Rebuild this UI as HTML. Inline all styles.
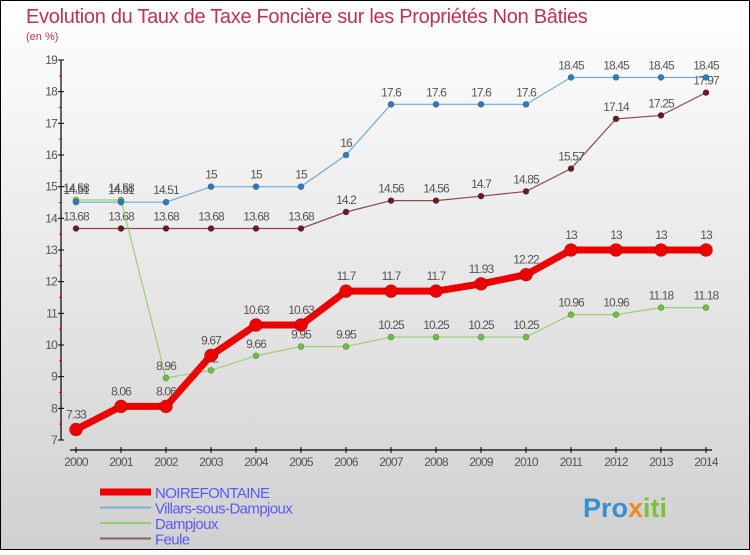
<!DOCTYPE html>
<html><head><meta charset="utf-8"><style>
body{margin:0;}
#c{position:relative;width:750px;height:550px;}
svg text{font-family:"Liberation Sans",sans-serif;}
</style></head><body>
<div id="c">
<svg id="s" width="750" height="550" xmlns="http://www.w3.org/2000/svg">
<defs><linearGradient id="bg" x1="0" y1="0" x2="0" y2="1"><stop offset="0" stop-color="#ffffff"/><stop offset="1" stop-color="#d0d0d0"/></linearGradient></defs>
<rect x="0.5" y="0.5" width="749" height="549" fill="url(#bg)" stroke="#000"/>
<text x="26" y="23" font-size="20" fill="#c0305a" letter-spacing="-0.3">Evolution du Taux de Taxe Foncière sur les Propriétés Non Bâties</text>
<text x="26" y="40" font-size="11" fill="#c0305a">(en %)</text>
<g id="axes"></g>
<g id="series"></g>
<g id="legend"></g>
<g>
<text x="583" y="517" font-size="27" font-weight="bold" fill="#3a8fd0">Pro<tspan fill="#f08a20">x</tspan><tspan fill="#7cc040">iti</tspan></text>
</g>
</svg>
</div>
<script>
const years=[2000,2001,2002,2003,2004,2005,2006,2007,2008,2009,2010,2011,2012,2013,2014];
const yTicks=[7,8,9,10,11,12,13,14,15,16,17,18,19];
const noirefontaine=[7.33,8.06,8.06,9.67,10.63,10.63,11.7,11.7,11.7,11.93,12.22,13,13,13,13];
const villars=[14.51,14.51,14.51,15,15,15,16,17.6,17.6,17.6,17.6,18.45,18.45,18.45,18.45];
const dampjoux=[14.58,14.58,8.96,9.2,9.66,9.95,9.95,10.25,10.25,10.25,10.25,10.96,10.96,11.18,11.18];
const feule=[13.68,13.68,13.68,13.68,13.68,13.68,14.2,14.56,14.56,14.7,14.85,15.57,17.14,17.25,17.97];
const seriesNames=["NOIREFONTAINE","Villars-sous-Dampjoux","Dampjoux","Feule"];

const NS="http://www.w3.org/2000/svg";
const x=i=>76+i*45;
const y=v=>440-(v-7)*(380/12);
function mk(tag,attrs,parent,txt){const e=document.createElementNS(NS,tag);for(const k in attrs)e.setAttribute(k,attrs[k]);if(txt!==undefined)e.textContent=txt;parent.appendChild(e);return e;}
const ax=document.getElementById('axes');
let e=mk('line',{x1:61,y1:y(19),x2:61,y2:y(7),stroke:'#000','stroke-width':1.2},ax);


yTicks.forEach(t=>{
  mk('line',{x1:58,y1:y(t),x2:64,y2:y(t),stroke:'#000'},ax);
  if(t<19)mk('line',{x1:59,y1:y(t+0.5),x2:62,y2:y(t+0.5),stroke:'#f00'},ax);
  const l=mk('text',{x:57,y:y(t)+4,'font-size':12,fill:'#555','text-anchor':'end','letter-spacing':'-0.8'},ax,String(t));
  
  
});
e=mk('line',{x1:70,y1:450,x2:712,y2:450,stroke:'#000','stroke-width':1.2},ax);


years.forEach((yr,i)=>{
  mk('line',{x1:x(i),y1:447,x2:x(i),y2:453,stroke:'#000'},ax);
  const l=mk('text',{x:x(i),y:466,'font-size':12,fill:'#555','text-anchor':'middle','letter-spacing':'-0.8'},ax,String(yr));
  
  
});
const sg=document.getElementById('series');
const defs=[
 {d:feule,c:'#8b4a4a',m:'#6a1a20',w:1.2,r:3,n:'feule'},
 {d:dampjoux,c:'#9ad070',m:'#6cc040',w:1.2,r:3,n:'dampjoux'},
 {d:villars,c:'#6aaad8',m:'#2e7cc0',w:1.2,r:3,n:'villars-sous-dampjoux'},
 {d:noirefontaine,c:'#ee0000',m:'#ee0000',w:7,r:6.5,n:'noirefontaine'}
];
defs.forEach(s=>{
  const g=mk('g',{},sg);
  
  
  const p=mk('polyline',{points:s.d.map((v,i)=>x(i)+','+y(v)).join(' '),fill:'none',stroke:s.c,'stroke-width':s.w},g);
  
  
  s.d.forEach((v,i)=>{
    const c=mk('circle',{cx:x(i),cy:y(v),r:s.r,fill:s.m,stroke:'rgba(0,0,0,0.25)','stroke-width':0.8},g);
    
    
    const t=mk('text',{x:x(i),y:y(v)-(s.w>2?11:8),'font-size':12,fill:'#555','text-anchor':'middle','letter-spacing':'-0.9'},g,String(v));
    
    
  });
});
const lg=document.getElementById('legend');
const lc=['#ee0000','#7ab0d0','#90d070','#906060'],lw=[7,2,2,2];
seriesNames.forEach((n,i)=>{
  const yy=492+i*15.5;
  const g=mk('g',{},lg);
  
  
  mk('line',{x1:100,y1:yy,x2:151,y2:yy,stroke:lc[i],'stroke-width':lw[i]},g);
  mk('text',{x:155,y:yy+6,'font-size':15,fill:'#5a5af0','letter-spacing':'-0.6'},g,n);
});
</script>
</body></html>
